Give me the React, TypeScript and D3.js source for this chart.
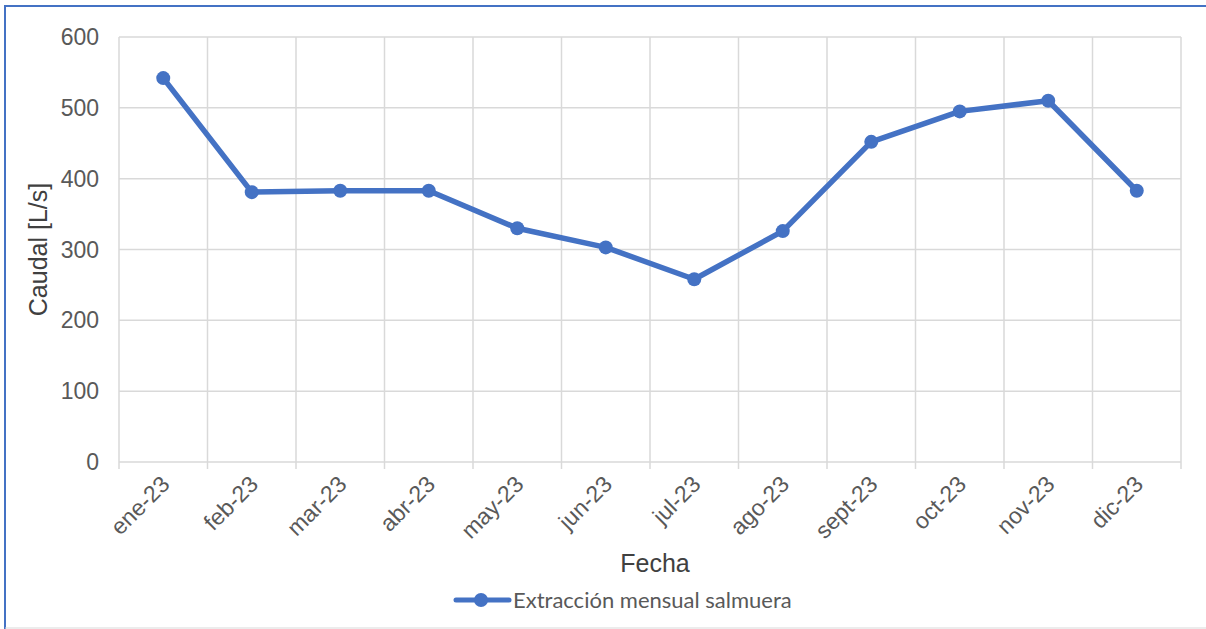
import * as d3 from "d3";

const months = ["ene-23", "feb-23", "mar-23", "abr-23", "may-23", "jun-23", "jul-23", "ago-23", "sept-23", "oct-23", "nov-23", "dic-23"];
const caudal = [542, 381, 383, 383, 330, 303, 258, 326, 452, 495, 510, 383];
const yTicks = [0, 100, 200, 300, 400, 500, 600];
const seriesName = "Extracción mensual salmuera";

const W = 1206;
const H = 629;
const plot = { left: 119, right: 1181, top: 37, bottom: 462 };
const blue = "#4472C4";
const font = "'Liberation Sans', Arial, sans-serif";

export default function App() {
  const x = d3.scaleBand<string>().domain(months).range([plot.left, plot.right]);
  const y = d3.scaleLinear().domain([0, 600]).range([plot.bottom, plot.top]);

  const line = d3
    .line<number>()
    .x((_, i) => (x(months[i]) as number) + x.bandwidth() / 2)
    .y((d) => y(d));

  const edges = months.map((m) => x(m) as number).concat([plot.right]);

  return (
    <svg width={W} height={H} style={{ position: "absolute", left: 0, top: 0, background: "#fff" }}>
      <rect x={0} y={0} width={W} height={H} fill="#fff" />
      {/* frame */}
      <line x1={5} x2={5} y1={5} y2={H} stroke={blue} strokeWidth={2} />
      <line x1={5} x2={W} y1={6} y2={6} stroke={blue} strokeWidth={2} />
      <line x1={5} x2={W} y1={628} y2={628} stroke="#d9d9d9" strokeWidth={1} />

      {/* horizontal grid */}
      {yTicks.map((t) => (
        <g key={t}>
          <line x1={plot.left} x2={plot.right} y1={y(t)} y2={y(t)} stroke="#d9d9d9" strokeWidth={1.5} />
          <text x={99} y={y(t)} dy="0.35em" textAnchor="end" fontFamily={font} fontSize={23} fill="#595959">
            {t}
          </text>
        </g>
      ))}
      {/* vertical grid + tick marks */}
      {edges.map((e, i) => (
        <line key={i} x1={e} x2={e} y1={plot.top} y2={plot.bottom + 7} stroke="#d9d9d9" strokeWidth={1.5} />
      ))}

      {/* category labels */}
      {months.map((m) => {
        const cx = (x(m) as number) + x.bandwidth() / 2 + 2;
        const cy = plot.bottom + 18;
        return (
          <text
            key={m}
            x={cx}
            y={cy}
            textAnchor="end"
            dy="0.35em"
            transform={`rotate(-45, ${cx}, ${cy})`}
            fontFamily={font}
            fontSize={23}
            fill="#595959"
          >
            {m}
          </text>
        );
      })}

      {/* series */}
      <path d={line(caudal) || ""} fill="none" stroke={blue} strokeWidth={5.5} strokeLinejoin="round" />
      {caudal.map((v, i) => (
        <circle key={i} cx={(x(months[i]) as number) + x.bandwidth() / 2} cy={y(v)} r={7} fill={blue} />
      ))}

      {/* axis titles */}
      <text
        transform={`translate(38, ${(plot.top + plot.bottom) / 2}) rotate(-90)`}
        textAnchor="middle"
        dy="0.35em"
        fontFamily={font}
        fontSize={25}
        fill="#404040"
      >
        Caudal [L/s]
      </text>
      <text x={655} y={563} textAnchor="middle" dy="0.35em" fontFamily={font} fontSize={25} fill="#404040">
        Fecha
      </text>

      {/* legend */}
      <line x1={456} x2={509} y1={600} y2={600} stroke={blue} strokeWidth={5} strokeLinecap="round" />
      <circle cx={481} cy={600} r={7} fill={blue} />
      <text x={513} y={600} dy="0.35em" fontFamily="Lato, 'Liberation Sans', sans-serif" fontSize={22} fill="#595959">
        {seriesName}
      </text>
    </svg>
  );
}
